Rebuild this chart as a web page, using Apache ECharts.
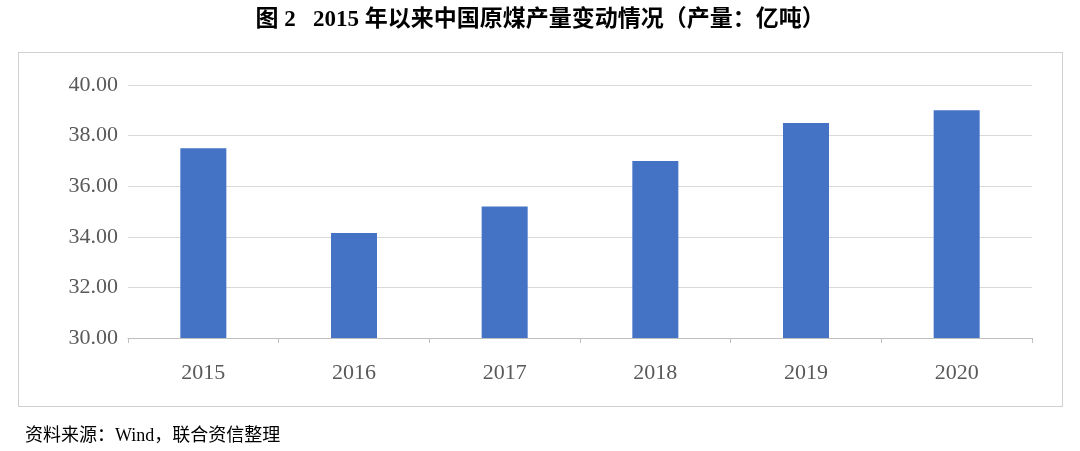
<!DOCTYPE html>
<html><head><meta charset="utf-8">
<script src="https://cdn.jsdelivr.net/npm/echarts@6/dist/echarts.min.js"></script>
<style>html,body{margin:0;padding:0;background:#fff}
#box{position:absolute;left:18px;top:52px;width:1045px;height:355px;border:1px solid #d0d0d0;box-sizing:border-box}
#c{position:absolute;left:0;top:0;width:1080px;height:451px}</style>
</head><body>
<div id="box"></div>
<div id="c"></div>
<script>
const categories=['2015','2016','2017','2018','2019','2020'];
const output=[37.5,34.15,35.2,37.0,38.5,39.0];
const title='图 2   2015 年以来中国原煤产量变动情况（产量：亿吨）';
const source='资料来源：Wind，联合资信整理';
const chart=echarts.init(document.getElementById('c'));
chart.setOption({
  animation:false,
  title:[{text:title,left:'center',top:4,textStyle:{fontFamily:'Liberation Serif, Noto Sans CJK SC',fontSize:23,fontWeight:'bold',color:'#000'}},
         {text:source,left:20,top:422,textStyle:{fontFamily:'Liberation Serif, Noto Sans CJK SC',fontSize:18,fontWeight:'normal',color:'#000'}}],
  grid:{left:128,right:48,top:85,bottom:113},
  xAxis:{type:'category',data:categories,
    axisLine:{lineStyle:{color:'#bfbfbf'}},axisTick:{show:true,lineStyle:{color:'#bfbfbf'}},
    axisLabel:{fontFamily:'Liberation Serif',fontSize:22,color:'#595959',margin:24}},
  yAxis:{type:'value',min:30,max:40,interval:2,
    splitLine:{lineStyle:{color:'#d9d9d9'}},axisLine:{show:false},axisTick:{show:false},
    axisLabel:{formatter:v=>v.toFixed(2),fontFamily:'Liberation Serif',fontSize:22,color:'#595959',margin:10}},
  series:[{type:'bar',data:output,barWidth:46,itemStyle:{color:'#4472c4'}}]
});
</script></body></html>
